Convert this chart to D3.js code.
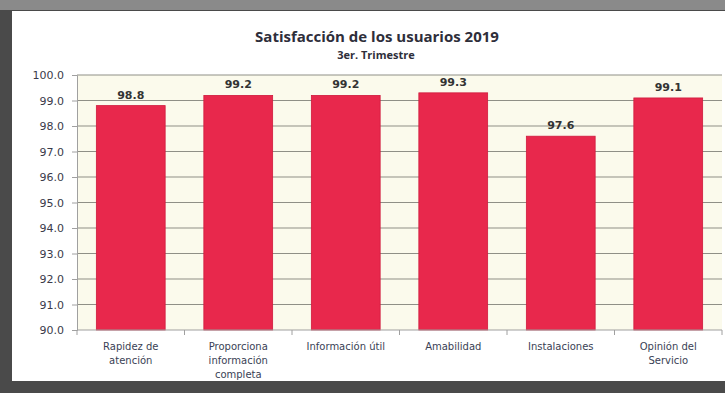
<!DOCTYPE html>
<html>
<head>
<meta charset="utf-8">
<script src="https://cdn.jsdelivr.net/npm/d3@7"></script>
<style>
  html, body { margin: 0; padding: 0; background: #fff; }
  svg { display: block; }
</style>
</head>
<body>
<svg id="chart" width="725" height="393"></svg>
<script>
// Survey results, 3rd quarter 2019
const categories = [
  ["Rapidez de", "atención"],
  ["Proporciona", "información", "completa"],
  ["Información útil"],
  ["Amabilidad"],
  ["Instalaciones"],
  ["Opinión del", "Servicio"]
];
const values = [98.8, 99.2, 99.2, 99.3, 97.6, 99.1];
const yTicks = [90, 91, 92, 93, 94, 95, 96, 97, 98, 99, 100];
const titleText = "Satisfacción de los usuarios 2019";
const subtitleText = "3er. Trimestre";

const svg = d3.select("#chart");
const W = 725, H = 393;

// Outer frame
svg.append("rect").attr("x", 0).attr("y", 0).attr("width", W).attr("height", H).attr("fill", "#4a4a4a");
svg.append("rect").attr("x", 0).attr("y", 0).attr("width", W).attr("height", 10).attr("fill", "#8a8a8a");
svg.append("rect").attr("x", 12).attr("y", 11).attr("width", W - 12).attr("height", 370).attr("fill", "#ffffff");

const margin = { left: 77, right: 3, top: 75, bottom: 63 };
const x0 = margin.left, x1 = W - margin.right;
const y0 = margin.top, y1 = H - margin.bottom;

const x = d3.scaleBand().domain(d3.range(values.length)).range([x0, x1]).paddingInner(0.36).paddingOuter(0.18);
const y = d3.scaleLinear().domain([90, 100]).range([y1, y0]);

// Plot background
svg.append("rect").attr("x", x0).attr("y", y0).attr("width", x1 - x0).attr("height", y1 - y0).attr("fill", "#fbfaec");

// Gridlines
svg.append("g").selectAll("line").data(yTicks.filter(t => t > 90)).join("line")
  .attr("x1", x0).attr("x2", x1)
  .attr("y1", d => y(d)).attr("y2", d => y(d))
  .attr("stroke", "#8f8f86").attr("stroke-width", 1);

// Bars
svg.append("g").selectAll("rect").data(values).join("rect")
  .attr("x", (d, i) => x(i))
  .attr("y", d => y(d))
  .attr("width", x.bandwidth())
  .attr("height", d => y(90) - y(d))
  .attr("fill", "#e8284c")
  .attr("stroke", "#d01a3c").attr("stroke-width", 0.8);

// Value labels
svg.append("g").selectAll("text").data(values).join("text")
  .attr("x", (d, i) => x(i) + x.bandwidth() / 2)
  .attr("y", d => y(d) - 7)
  .attr("text-anchor", "middle")
  .attr("font-family", "DejaVu Sans, Verdana, sans-serif")
  .attr("font-size", 11).attr("font-weight", "bold")
  .attr("fill", "#333")
  .text(d => d.toFixed(1));

// Y axis
const yAxis = d3.axisLeft(y).tickValues(yTicks).tickFormat(d3.format(".1f")).tickSize(5).tickPadding(8);
const gy = svg.append("g").attr("transform", `translate(${x0},0)`).call(yAxis);
gy.select(".domain").attr("stroke", "#a0a0a0");
gy.selectAll(".tick line").attr("stroke", "#a0a0a0");
gy.selectAll("text").attr("font-family", "DejaVu Sans, Verdana, sans-serif").attr("font-size", 11).attr("fill", "#3a3a4a");

// X axis with category separators
const gx = svg.append("g").attr("transform", `translate(0,${y1})`);
gx.append("line").attr("x1", x0).attr("x2", x1).attr("stroke", "#a0a0a0");
gx.selectAll("line.sep").data(d3.range(values.length + 1)).join("line").attr("class", "sep")
  .attr("x1", i => x0 + i * (x1 - x0) / values.length)
  .attr("x2", i => x0 + i * (x1 - x0) / values.length)
  .attr("y1", 0).attr("y2", 5).attr("stroke", "#a0a0a0");

const labels = gx.selectAll("text").data(categories).join("text")
  .attr("text-anchor", "middle")
  .attr("font-family", "DejaVu Sans, Verdana, sans-serif")
  .attr("font-size", 10)
  .attr("fill", "#3a3f55")
  .attr("transform", (d, i) => `translate(${x(i) + x.bandwidth() / 2},20)`);
labels.selectAll("tspan").data(d => d).join("tspan")
  .attr("x", 0).attr("dy", (d, j) => j === 0 ? 0 : 14)
  .text(d => d);

// Titles
svg.append("text").attr("x", 377).attr("y", 42).attr("text-anchor", "middle")
  .attr("font-family", "Open Sans, sans-serif").attr("font-weight", "bold").attr("font-size", 15)
  .attr("fill", "#2e2e3a").text(titleText);
svg.append("text").attr("x", 376).attr("y", 59).attr("text-anchor", "middle")
  .attr("font-family", "Open Sans, sans-serif").attr("font-weight", "bold").attr("font-size", 11)
  .attr("fill", "#2e2e3a").text(subtitleText);
</script>
</body>
</html>
